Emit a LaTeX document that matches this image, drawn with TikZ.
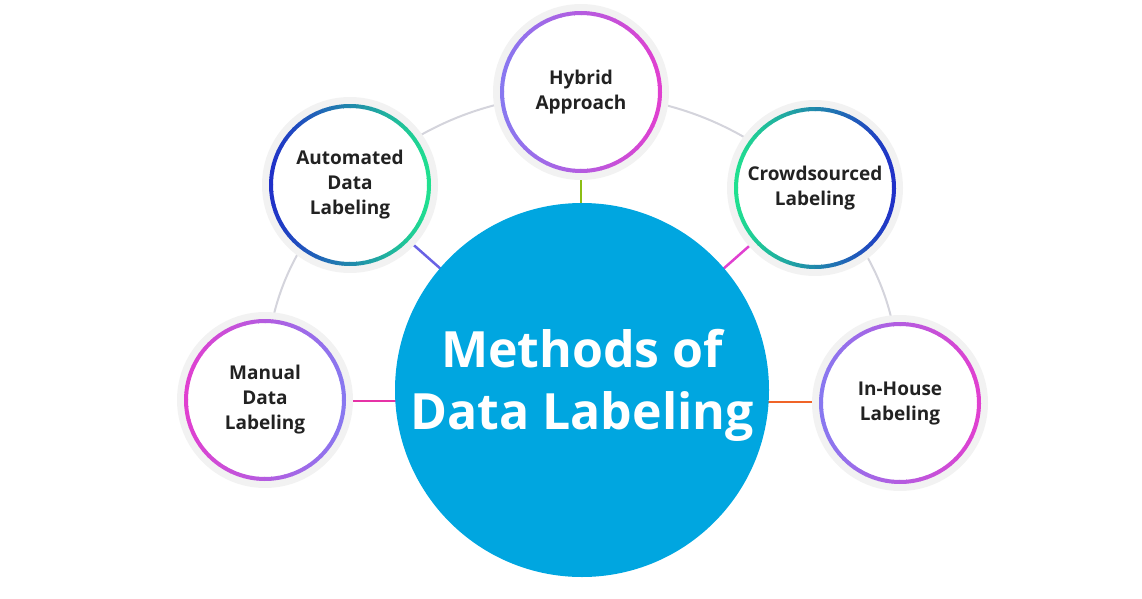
\documentclass[tikz,border=0pt]{standalone}
\usepackage{fontspec}
\setmainfont{Open Sans}
\definecolor{mainblue}{HTML}{00A6E0}
\definecolor{cmag}{HTML}{E040D0}
\definecolor{cpur}{HTML}{8878F0}
\definecolor{cdblue}{HTML}{2030C8}
\definecolor{cgreen}{HTML}{20E090}
\definecolor{arcgray}{HTML}{D4D4DC}
\definecolor{txt}{HTML}{222222}
\newcommand{\gradring}[4]{% center, radius, left color, right color
  \fill[white] (#1) circle (#2);
  \foreach \a in {0,5,...,355}{
    \pgfmathsetmacro{\p}{50*(1-cos(\a+2.5))}
    \colorlet{segc}{#3!\p!#4}
    \draw[segc, line width=4pt] ($(#1)+(\a:#2)$) arc (\a:\a+5.5:#2);
  }
}
\usetikzlibrary{calc}
\tikzset{lbl/.style={font=\bfseries\fontsize{19}{25}\selectfont, text=txt, align=center},
  spoke/.style={line width=2.5pt}}
\begin{document}
\begin{tikzpicture}[x=1pt,y=-1pt]
\useasboundingbox (0,0) rectangle (1142,599);
\coordinate (mc) at (582,390);
\coordinate (hy) at (581,92);
\coordinate (au) at (350,185);
\coordinate (cr) at (815,188);
\coordinate (ma) at (265,400);
\coordinate (ih) at (900,403);
% outer arc
\draw[arcgray, line width=2pt] (ma) to[bend left=22] (au) to[bend left=18] (hy) to[bend left=18] (cr) to[bend left=22] (ih);
% spokes
\draw[spoke, color={rgb,255:red,140;green,190;blue,20}] (581,172) -- (581,205);
\draw[spoke, color=cpur!70!cdblue] (408,240) -- (442,270);
\draw[spoke, color=cmag] (722,270) -- (756,240);
\draw[spoke, color=cmag!80!red] (345,401) -- (397,401);
\draw[spoke, color={rgb,255:red,240;green,100;blue,40}] (767,402) -- (822,402);
% main
\fill[mainblue] (mc) circle (187);
\node[font=\bfseries\fontsize{50}{62}\selectfont, text=white, align=center] (mt) at (582,385) {Methods of\\Data Labeling};
% shadows
\foreach \c in {hy,au,cr,ma,ih}{\fill[gray!18] (\c) circle (85);\fill[gray!10] (\c) circle (88);}
\gradring{hy}{79}{cpur}{cmag}
\gradring{au}{79}{cdblue}{cgreen}
\gradring{cr}{79}{cgreen}{cdblue}
\gradring{ma}{79}{cmag}{cpur}
\gradring{ih}{79}{cpur}{cmag}
\node[lbl] (thy) at (hy) {Hybrid\\Approach};
\node[lbl] (tau) at (au) {Automated\\Data\\Labeling};
\node[lbl] (tcr) at (cr) {Crowdsourced\\Labeling};
\node[lbl] (tma) at (ma) {Manual\\Data\\Labeling};
\node[lbl] (tih) at (ih) {In-House\\Labeling};
\end{tikzpicture}
\end{document}
